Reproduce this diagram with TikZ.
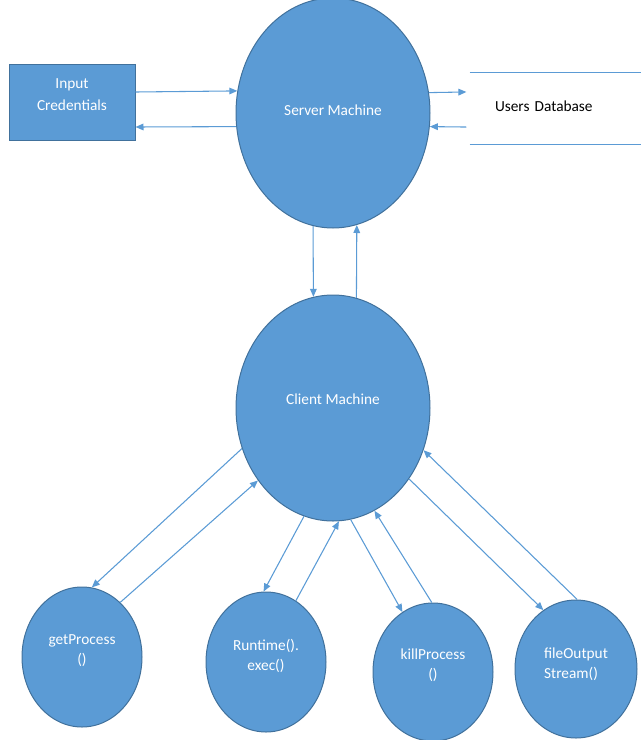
\documentclass[tikz,border=0pt]{standalone}
\usepackage{fontspec}
\setmainfont{Carlito}
\usetikzlibrary{arrows.meta,shapes.geometric}
\definecolor{officeblue}{HTML}{5B9BD5}
\definecolor{officeedge}{HTML}{41719C}

\begin{document}
\begin{tikzpicture}[x=0.75pt,y=-0.75pt,
    blob/.style={ellipse,draw=officeedge,fill=officeblue,line width=0.75pt,
      text=white,inner sep=0pt,align=center,font=\fontsize{11.5}{15}\selectfont},
    box/.style={blob,rectangle},
    lift/.style={text height=8pt,text depth=#1},
    lifttwo/.style={text depth=3pt,text height=#1},
    flow/.style={draw=officeblue,line width=0.8pt,-{Triangle[length=6pt,width=5pt]}},
    dbline/.style={draw=officeblue,line width=0.8pt}]
    \def\px{0.75pt}
    \useasboundingbox (0,0) rectangle (641,740);
    % machines
    \node[blob,lift=3.6pt,minimum width=194*\px,minimum height=230*\px] (srv) at (333,113) {Server Machine};
    \node[blob,lift=12.6pt,minimum width=194*\px,minimum height=226*\px] (cli) at (333,408) {Client Machine};
    \node[box,lifttwo=16.4pt,font=\fontsize{11.5}{16.5}\selectfont,minimum width=126*\px,minimum height=76*\px] (inp) at (72,102) {Input\\Credentials};
    \node[font=\fontsize{11.5}{15}\selectfont,lift=3.6pt,text width=90.75pt,align=left,inner xsep=18.75pt,
      inner ysep=0pt,minimum height=71*\px] (udb) at (555.5,108.5) {Users Database};
    \draw[dbline] (udb.north west) -- (udb.north east);
    \draw[dbline] (udb.south west) -- (udb.south east);
    % methods
    \node[blob,lifttwo=14.9pt,minimum width=120*\px,minimum height=140*\px] (gp) at (82,657) {getProcess\\()};
    \node[blob,lifttwo=16.4pt,minimum width=120*\px,minimum height=140*\px] (rt) at (266,662) {Runtime().\\exec()};
    \node[blob,lifttwo=14.9pt,minimum width=120*\px,minimum height=138*\px] (kp) at (433,672) {killProcess\\()};
    \node[blob,lifttwo=17.9pt,align=left,minimum width=122*\px,minimum height=138*\px] (fo) at (576,669) {fileOutput\\Stream()};
    % top arrows
    \draw[flow] ([yshift=7.5pt]inp.east) -- (srv.167);
    \draw[flow] (srv.188) -- ([yshift=-18.75pt]inp.east);
    \draw[flow] (srv.12) -- ([xshift=-2.5pt,yshift=12.4pt]udb.west);
    \draw[flow] ([xshift=-2.5pt,yshift=-13.9pt]udb.west) -- (srv.-8);
    \draw[flow] (srv.-100) -- (cli.100);
    \draw[flow] (cli.78) -- (srv.-78);
    % bottom arrows
    \draw[flow] (cli.204) -- (gp.82);
    \draw[flow] (gp.55) -- (cli.224);
    \draw[flow] (cli.255) -- (rt.92);
    \draw[flow] (rt.64) -- (cli.-87);
    \draw[flow] (cli.-81) -- (kp.117);
    \draw[flow] (kp.91) -- (cli.-68);
    \draw[flow] (cli.-43) -- (fo.119);
    \draw[flow] (fo.89) -- (cli.-25);
\end{tikzpicture}
\end{document}
